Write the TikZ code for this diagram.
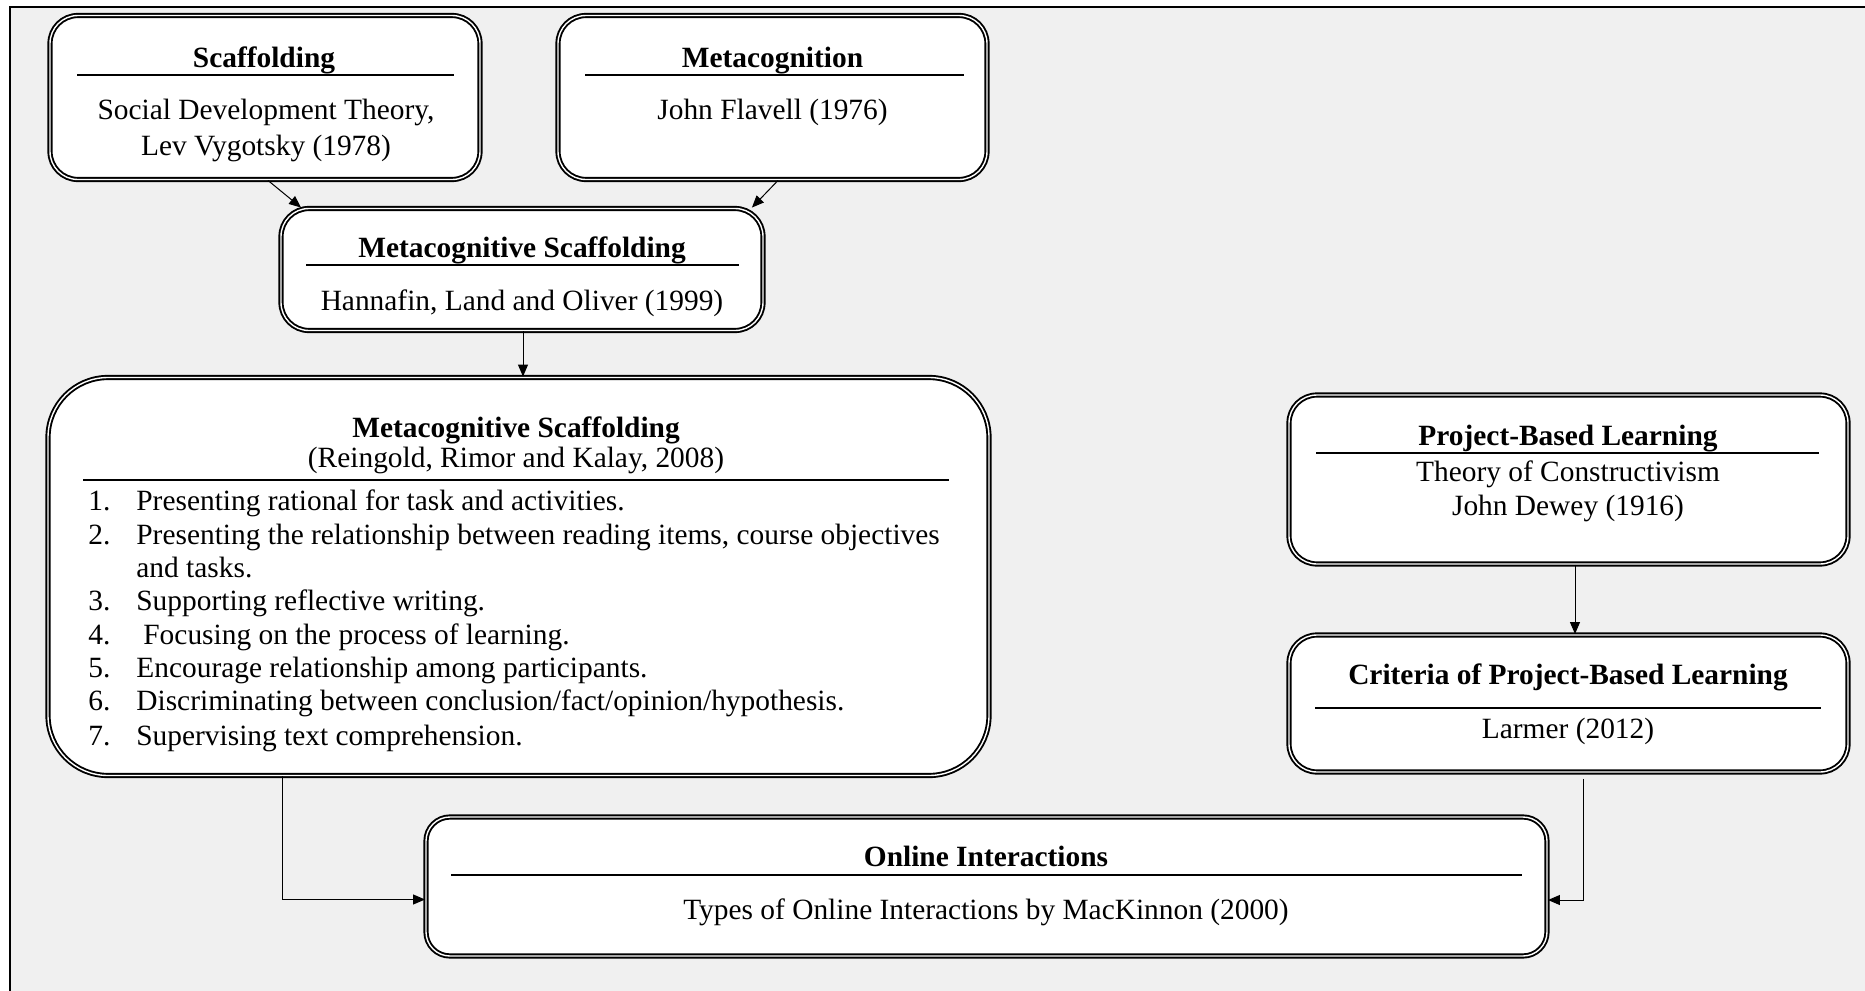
\documentclass[tikz,border=0pt]{standalone}
\usepackage{fontspec}
\setmainfont{Liberation Serif}
\usetikzlibrary{arrows.meta,calc}
\definecolor{bggray}{HTML}{F0F0F0}
\begin{document}
\begin{tikzpicture}[x=0.5pt,y=-0.5pt,
 bx/.style={draw, line width=0.95pt, double=white, double distance=0.7pt, fill=white, rounded corners=14pt, inner sep=0pt},
 rl/.style={line width=0.75pt},
 lbl/.style={inner sep=0pt, anchor=base, yshift=-1.2pt, font=\fontsize{14.7}{17}\selectfont},
 hd/.style={lbl, font=\fontsize{14.7}{17}\selectfont\bfseries},
 li/.style={lbl, anchor=base west},
 conn/.style={line width=0.5pt, -{Triangle[length=6pt,width=5pt]}}]
\useasboundingbox (0,0) rectangle (1865,991);
\fill[white] (0,0) rectangle (1865,991);
\fill[bggray] (10,7) rectangle (1865,991);
\draw[line width=1pt] (10,991) -- (10,7) -- (1865,7);

% Scaffolding
\node[bx, minimum width=215pt, minimum height=82pt] (scaf) at (265,97.5) {};
\node[hd] (scafT) at (264,65) {Scaffolding};
\draw[rl] (77,75) -- (454,75);
\node[lbl] (scafA) at (266,117) {Social Development Theory,};
\node[lbl] (scafB) at (266,153) {Lev Vygotsky (1978)};

% Metacognition
\node[bx, minimum width=214.5pt, minimum height=82pt] (meta) at (772.5,97.5) {};
\node[hd] (metaT) at (772.5,65) {Metacognition};
\draw[rl] (585,75) -- (964,75);
\node[lbl] (metaA) at (772.5,117) {John Flavell (1976)};

% Metacognitive Scaffolding (small)
\node[bx, minimum width=241pt, minimum height=61pt] (msa) at (522,269.5) {};
\node[hd] (msaT) at (522,255) {Metacognitive Scaffolding};
\draw[rl] (306,265) -- (739,265);
\node[lbl] (msaA) at (522,308) {Hannafin, Land and Oliver (1999)};

% Metacognitive Scaffolding (big)
\node[bx, rounded corners=30pt, minimum width=470.5pt, minimum height=199pt] (msb) at (518.5,576.5) {};
\node[hd] (msbT) at (516,435) {Metacognitive Scaffolding};
\node[lbl] (msbA) at (516,465) {(Reingold, Rimor and Kalay, 2008)};
\draw[rl] (83,480) -- (949,480);
\node[li] (n1) at (88,508) {1.};
\node[li] (t1) at (136,508) {Presenting rational for task and activities.};
\node[li] (n2) at (88,542) {2.};
\node[li] (t2) at (136,542) {Presenting the relationship between reading items, course objectives};
\node[li] (t2b) at (136,575) {and tasks.};
\node[li] (n3) at (88,608) {3.};
\node[li] (t3) at (136,608) {Supporting reflective writing.};
\node[li] (n4) at (88,642) {4.};
\node[li] (t4) at (143,642) {Focusing on the process of learning.};
\node[li] (n5) at (88,675) {5.};
\node[li] (t5) at (136,675) {Encourage relationship among participants.};
\node[li] (n6) at (88,708) {6.};
\node[li] (t6) at (136,708) {Discriminating between conclusion/fact/opinion/hypothesis.};
\node[li] (n7) at (88,743) {7.};
\node[li] (t7) at (136,743) {Supervising text comprehension.};

% Project-Based Learning
\node[bx, minimum width=279.5pt, minimum height=84.5pt] (pbl) at (1568.5,479.5) {};
\node[hd] (pblT) at (1568,443) {Project-Based Learning};
\draw[rl] (1316,453) -- (1819,453);
\node[lbl] (pblA) at (1568,479) {Theory of Constructivism};
\node[lbl] (pblB) at (1568,513) {John Dewey (1916)};

% Criteria
\node[bx, minimum width=279.5pt, minimum height=68.5pt] (crit) at (1568.5,703.5) {};
\node[hd] (critT) at (1568,682) {Criteria of Project-Based Learning};
\draw[rl] (1315,708) -- (1821,708);
\node[lbl] (critA) at (1568,736) {Larmer (2012)};

% Online Interactions
\node[bx, rounded corners=12pt, minimum width=560.5pt, minimum height=69.5pt] (onl) at (986.5,886.5) {};
\node[hd] (onlT) at (986,864) {Online Interactions};
\draw[rl] (451,875) -- (1522,875);
\node[lbl] (onlA) at (986,917) {Types of Online Interactions by MacKinnon (2000)};

% connectors
\draw[conn] ($(scaf.south)+(3,0)$) -- ($(msa.north west)+(21,0)$);
\draw[conn] ($(meta.south)+(5.5,0)$) -- ($(msa.north east)+(-12,0)$);
\draw[conn] ($(msa.south)+(1,0)$) -- ($(msb.north)+(4.5,0)$);
\draw[conn] ($(pbl.south)+(6.5,0)$) -- ($(crit.north)+(6.5,0)$);
\draw[conn] ($(msb.south west)+(235,0)$) |- ($(onl.west)+(0,13)$);
\draw[conn] ($(crit.south)+(14.5,6)$) |- ($(onl.east)+(0,13.5)$);
\end{tikzpicture}
\end{document}
